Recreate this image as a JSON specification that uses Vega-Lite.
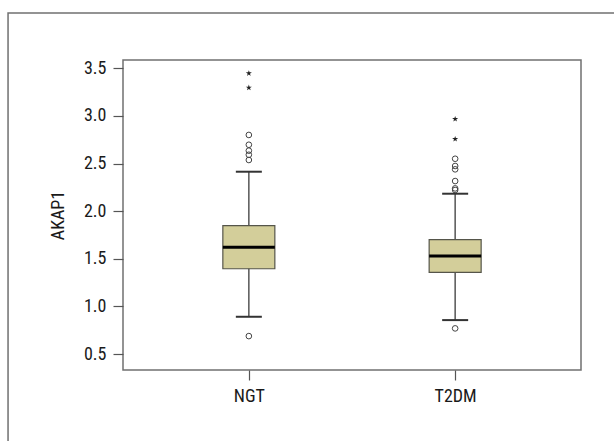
{
  "$schema": "https://vega.github.io/schema/vega-lite/v6.json",
  "width": 458,
  "height": 310,
  "autosize": {"type": "none"},
  "padding": {"left": 123, "top": 60, "right": 33, "bottom": 71},
  "background": "white",
  "config": {
    "font": "Liberation Sans Narrow, Roboto Condensed, DejaVu Sans Condensed, sans-serif",
    "view": {"stroke": "#707070", "strokeWidth": 1.5},
    "axis": {
      "grid": false,
      "domain": false,
      "tickColor": "#555555",
      "tickSize": 10,
      "tickWidth": 1.2,
      "labelFontSize": 18,
      "labelColor": "#1a1a1a",
      "titleFontSize": 18,
      "titleFontWeight": "normal",
      "titleColor": "#1a1a1a"
    }
  },
  "datasets": {
    "summary": [
      {"group": "NGT", "lower": 0.891, "q1": 1.395, "median": 1.62, "q3": 1.847, "upper": 2.414},
      {"group": "T2DM", "lower": 0.856, "q1": 1.357, "median": 1.528, "q3": 1.7, "upper": 2.183}
    ],
    "outliers": [
      {"group": "NGT", "value": 0.688},
      {"group": "NGT", "value": 2.537},
      {"group": "NGT", "value": 2.592},
      {"group": "NGT", "value": 2.635},
      {"group": "NGT", "value": 2.697},
      {"group": "NGT", "value": 2.8},
      {"group": "T2DM", "value": 0.769},
      {"group": "T2DM", "value": 2.222},
      {"group": "T2DM", "value": 2.239},
      {"group": "T2DM", "value": 2.316},
      {"group": "T2DM", "value": 2.439},
      {"group": "T2DM", "value": 2.474},
      {"group": "T2DM", "value": 2.55}
    ],
    "extremes": [
      {"group": "NGT", "value": 3.296},
      {"group": "NGT", "value": 3.447},
      {"group": "T2DM", "value": 2.757},
      {"group": "T2DM", "value": 2.967}
    ]
  },
  "layer": [
    {
      "encoding": {
        "x": {
          "field": "group",
          "type": "nominal",
          "scale": {"type": "point", "padding": 0.61},
          "axis": {"title": null, "orient": "bottom", "labelAngle": 0, "labelPadding": 7}
        },
        "y": {
          "type": "quantitative",
          "scale": {"domain": [0.332, 3.587], "nice": false, "zero": false},
          "axis": {"title": "AKAP1", "orient": "left", "values": [0.5, 1, 1.5, 2, 2.5, 3, 3.5], "format": ".1f", "labelPadding": 7, "titlePadding": 16}
        }
      },
      "layer": [
        {
          "data": {"name": "summary"},
          "mark": {"type": "rule", "color": "#555555", "strokeWidth": 1.5},
          "encoding": {"y": {"field": "lower", "type": "quantitative"}, "y2": {"field": "upper"}}
        },
        {
          "data": {"name": "summary"},
          "mark": {"type": "tick", "color": "#333333", "opacity": 1, "size": 26, "thickness": 2, "orient": "horizontal"},
          "encoding": {"y": {"field": "lower", "type": "quantitative"}}
        },
        {
          "data": {"name": "summary"},
          "mark": {"type": "tick", "color": "#333333", "opacity": 1, "size": 26, "thickness": 2, "orient": "horizontal"},
          "encoding": {"y": {"field": "upper", "type": "quantitative"}}
        },
        {
          "data": {"name": "summary"},
          "mark": {"type": "bar", "size": 52, "fill": "#d3ce9a", "opacity": 1, "stroke": "#55554a", "strokeWidth": 1.2},
          "encoding": {"y": {"field": "q1", "type": "quantitative"}, "y2": {"field": "q3"}}
        },
        {
          "data": {"name": "summary"},
          "mark": {"type": "tick", "color": "#000000", "opacity": 1, "size": 52, "thickness": 3, "orient": "horizontal"},
          "encoding": {"y": {"field": "median", "type": "quantitative"}}
        },
        {
          "data": {"name": "outliers"},
          "mark": {"type": "point", "shape": "circle", "filled": false, "color": "#444444", "strokeWidth": 1, "size": 32, "opacity": 1},
          "encoding": {"y": {"field": "value", "type": "quantitative"}}
        },
        {
          "data": {"name": "extremes"},
          "mark": {"type": "point", "shape": "M0,-1L0.2245,-0.309L0.951,-0.309L0.363,0.118L0.588,0.809L0,0.382L-0.588,0.809L-0.363,0.118L-0.951,-0.309L-0.2245,-0.309Z", "filled": true, "color": "#222222", "size": 40, "opacity": 1},
          "encoding": {"y": {"field": "value", "type": "quantitative"}}
        }
      ]
    },
    {
      "data": {"values": [{"frame": "outer"}]},
      "mark": {"type": "rect", "fill": null, "fillOpacity": 0, "stroke": "#707070", "strokeWidth": 1.5, "clip": false},
      "encoding": {
        "x": {"datum": -0.251, "type": "quantitative", "scale": {"domain": [0, 1], "nice": false, "zero": false}, "axis": null},
        "x2": {"datum": 1.1},
        "y": {"datum": 4.081, "type": "quantitative"},
        "y2": {"datum": -0.6}
      }
    }
  ],
  "resolve": {"scale": {"x": "independent"}, "axis": {"x": "independent"}}
}
